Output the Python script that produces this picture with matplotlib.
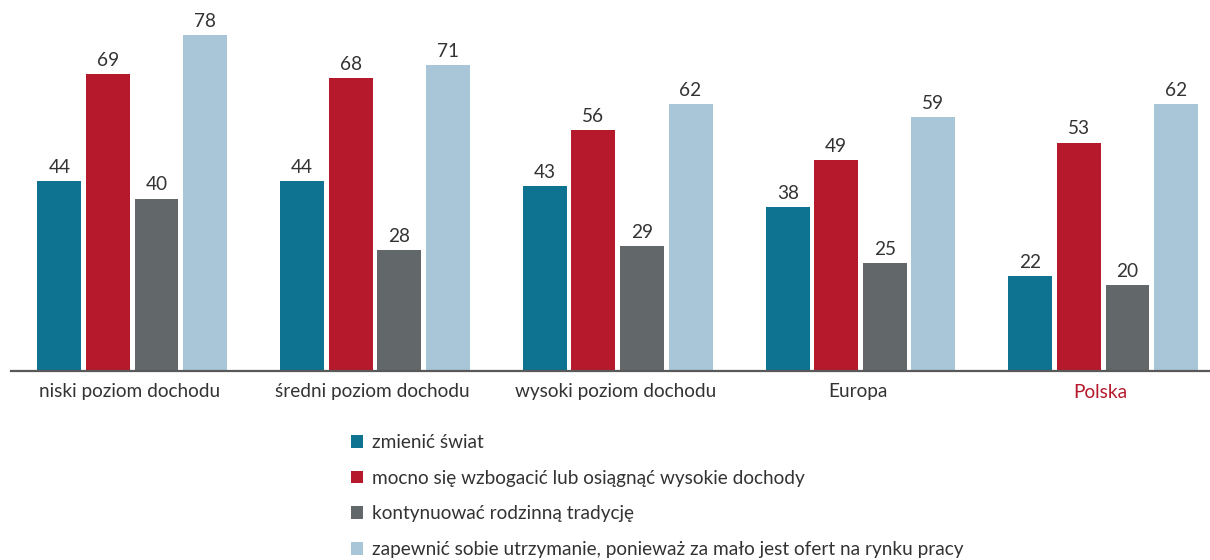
import matplotlib
matplotlib.use('Agg')
import matplotlib.pyplot as plt
from matplotlib.patches import Patch
import numpy as np

plt.rcParams['font.family'] = ['Lato', 'DejaVu Sans']

groups = ['niski poziom dochodu', 'średni poziom dochodu', 'wysoki poziom dochodu', 'Europa', 'Polska']
series = ['zmienić świat',
          'mocno się wzbogacić lub osiągnąć wysokie dochody',
          'kontynuować rodzinną tradycję',
          'zapewnić sobie utrzymanie, ponieważ za mało jest ofert na rynku pracy']
zmienic = [44, 44, 43, 38, 22]
wzbogacic = [69, 68, 56, 49, 53]
tradycja = [40, 28, 29, 25, 20]
utrzymanie = [78, 71, 62, 59, 62]

colors = ['#0E7391', '#B5192B', '#62676A', '#A8C6D8']
text_col = '#333333'
fs = 13.7

fig = plt.figure(figsize=(12.1, 5.6), dpi=100)
ax = fig.add_axes([0.009, 0.3375, 0.991, 0.654])

x = np.arange(len(groups))
width = 0.181
offsets = [-0.3, -0.1, 0.1, 0.3]
for vals, off, col in zip([zmienic, wzbogacic, tradycja, utrzymanie], offsets, colors):
    bars = ax.bar(x + off, vals, width, color=col)
    for b, v in zip(bars, vals):
        ax.text(b.get_x() + b.get_width() / 2, v + 1.2, str(v), ha='center', va='bottom',
                fontsize=fs, color=text_col)

ax.set_xlim(-0.5, 4.44)
ax.set_ylim(0, 85)
for s in ['top', 'left', 'right']:
    ax.spines[s].set_visible(False)
ax.spines['bottom'].set_color('#595959')
ax.spines['bottom'].set_linewidth(1.6)
ax.set_yticks([])
ax.set_xticks(x - 0.01)
ax.set_xticklabels(groups, fontsize=fs, color=text_col)
ax.tick_params(axis='x', length=0, pad=9)
ax.get_xticklabels()[-1].set_color('#B5192B')

handles = [Patch(facecolor=c, edgecolor='none') for c in colors]
fig.legend(handles, series, loc='upper left', bbox_to_anchor=(0.282, 0.242),
           frameon=False, fontsize=fs, labelcolor=text_col, handlelength=0.64,
           handleheight=0.64, handletextpad=0.5, labelspacing=0.98, borderpad=0)

fig.savefig('out.png', dpi=100)
